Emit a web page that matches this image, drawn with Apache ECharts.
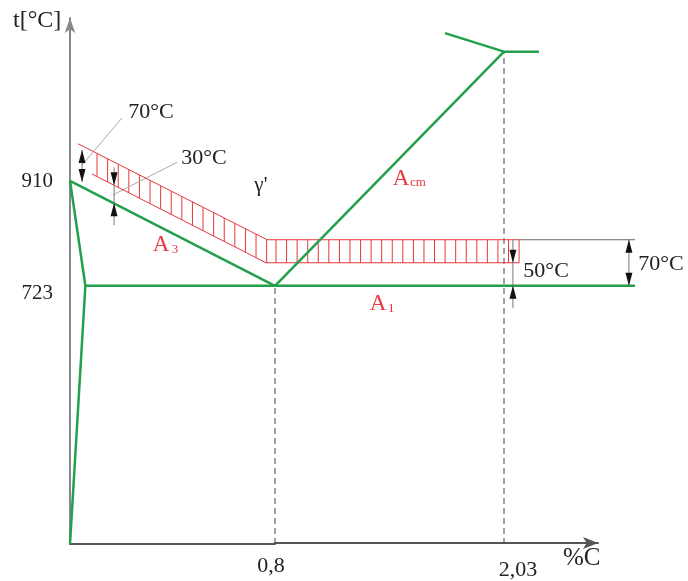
<!DOCTYPE html>
<html>
<head>
<meta charset="utf-8">
<script src="https://cdn.jsdelivr.net/npm/echarts@6/dist/echarts.min.js"></script>
<style>html,body{margin:0;padding:0;background:#fff;}#c{width:688px;height:581px;}</style>
</head>
<body>
<div id="c"></div>
<script>
// ---- data (x in %C, y in °C; schematic diagram with piecewise x scale: 0..0.8 and 0.8..) ----
const GREEN = '#22a04b', RED = '#e8363c', INK = '#222';
const FONT = '"Liberation Serif","DejaVu Serif",serif';

const yTicks = [723, 910];
const xTicks = [0.8, 2.03];

// left part (0 .. 0.8 %C)
const lineGPQ   = [[0, 910], [0.06, 723], [0, 263]];
const lineA3    = [[0, 910], [0.8, 723]];
const lineA1L   = [[0.06, 723], [0.8, 723]];
const bandUpL   = [[0.031, 976], [0.769, 805], [0.8, 805]];
const bandLoL   = [[0.086, 922], [0.765, 764], [0.8, 764]];
const leader70  = [[0.047, 938], [0.203, 1022]];
const leader30  = [[0.168, 885], [0.418, 943]];
// dimension marks: [x, tipTop, tipBottom, lineTop, lineBottom, mode(0 outward,1 inward)]
const dimsL     = [[0.047, 965, 908, 965, 908, 0], [0.172, 902, 870, 934, 831, 1]];

// right part (0.8 .. %C)
const lineAcm   = [[0.8, 723], [2.03, 1140]];
const lineE     = [[1.713, 1173], [2.03, 1140], [2.218, 1140]];
const lineA1R   = [[0.8, 723], [2.734, 723]];
const bandUpR   = [[0.8, 805], [2.111, 805]];
const bandLoR   = [[0.8, 764], [2.111, 764]];
const refLine   = [[2.111, 805], [2.734, 805]];
const dash08    = [[0.8, 263], [0.8, 723]];
const dash203   = [[2.03, 263], [2.03, 1140]];
const dimsR     = [[2.078, 764, 723, 805, 683, 1], [2.701, 805, 723, 805, 723, 0]];

// text labels: [text, x, y, style]
const labelsL = [['70°C', 0.316, 1033, 'note'], ['30°C', 0.523, 951, 'note'], ["γ'", 0.745, 901, 'gamma'],
                 ['A', 0.355, 796, 'A'], ['3', 0.41, 787, 'sub']];
const labelsR = [['A', 1.477, 914, 'A'], ['cm', 1.568, 906, 'sub'], ['A', 1.353, 690, 'A'], ['1', 1.424, 683, 'sub'],
                 ['50°C', 2.256, 749, 'note'], ['70°C', 2.873, 762, 'note']];

// ---- helpers ----
const labelStyles = {
  note:  {size: 22, fill: INK},
  gamma: {size: 21, fill: INK},
  A:     {size: 23, fill: RED},
  sub:   {size: 13, fill: RED}
};
function line(data, gi, color, width, type) {
  return {type: 'line', xAxisIndex: gi, yAxisIndex: gi, data: data, symbol: 'none', showSymbol: false,
    clip: false, silent: true, animation: false, z: 3,
    lineStyle: {color: color, width: width, type: type || 'solid'}};
}
function interpY(P, x) {
  for (let i = 0; i < P.length - 1; i++) {
    const a = P[i], b = P[i + 1];
    if (x >= a[0] && x <= b[0]) { const t = (x - a[0]) / ((b[0] - a[0]) || 1); return a[1] + t * (b[1] - a[1]); }
  }
  return x < P[0][0] ? P[0][1] : P[P.length - 1][1];
}
function hatch(upper, lower, gi, mode) {
  return {type: 'custom', xAxisIndex: gi, yAxisIndex: gi, silent: true, animation: false, z: 2, clip: false,
    data: [[upper[1][0], (upper[1][1] + lower[1][1]) / 2]],
    renderItem: function (params, api) {
      const U = upper.map(p => api.coord(p)), D = lower.map(p => api.coord(p));
      const start = Math.max(U[0][0], D[0][0]), end = Math.min(U[U.length - 1][0], D[D.length - 1][0]);
      const xs = [];
      if (mode === 'left') { for (let x = start + 5; x < end - 3; x += 10.6) xs.push(x); }
      else { const n = Math.round((end - start) / 10.5), s = (end - start - 1) / n; for (let k = 0; k <= n; k++) xs.push(start + 1 + k * s); }
      return {type: 'group', children: xs.map(x => ({type: 'line',
        shape: {x1: x, y1: interpY(U, x), x2: x, y2: interpY(D, x)}, style: {stroke: RED, lineWidth: 1}}))};
    }};
}
function dims(data, gi) {
  return {type: 'custom', xAxisIndex: gi, yAxisIndex: gi, silent: true, animation: false, z: 5, clip: false,
    data: data,
    renderItem: function (params, api) {
      const x = api.value(0);
      const p1 = api.coord([x, api.value(1)]), p2 = api.coord([x, api.value(2)]);
      const q1 = api.coord([x, api.value(3)]), q2 = api.coord([x, api.value(4)]);
      const mode = api.value(5), L = 13, W = 3.5, px = p1[0];
      const ch = [{type: 'line', shape: {x1: px, y1: q1[1], x2: px, y2: q2[1]}, style: {stroke: '#777', lineWidth: 1}}];
      let h1, h2;
      if (mode === 0) {
        h1 = [[px, p1[1]], [px - W, p1[1] + L], [px + W, p1[1] + L]];
        h2 = [[px, p2[1]], [px - W, p2[1] - L], [px + W, p2[1] - L]];
      } else {
        h1 = [[px, p1[1]], [px - W, p1[1] - L], [px + W, p1[1] - L]];
        h2 = [[px, p2[1]], [px - W, p2[1] + L], [px + W, p2[1] + L]];
      }
      ch.push({type: 'polygon', shape: {points: h1}, style: {fill: '#111'}});
      ch.push({type: 'polygon', shape: {points: h2}, style: {fill: '#111'}});
      return {type: 'group', children: ch};
    }};
}
function labels(arr, gi) {
  return {type: 'custom', xAxisIndex: gi, yAxisIndex: gi, silent: true, animation: false, clip: false, z: 6,
    data: arr.map(l => [l[1], l[2]]),
    renderItem: function (params, api) {
      const l = arr[params.dataIndex], st = labelStyles[l[3]];
      const p = api.coord([api.value(0), api.value(1)]);
      return {type: 'text', x: p[0], y: p[1],
        style: {text: l[0], font: st.size + 'px ' + FONT, fill: st.fill, align: 'center', verticalAlign: 'middle'}};
    }};
}

const chart = echarts.init(document.getElementById('c'), null, {renderer: 'canvas'});
const Y_MIN = 263, Y_MAX = 1200;
const PX_PER_PCT = 229 / 1.23;           // right part horizontal scale
const hidden = {show: false};
chart.setOption({
  animation: false,
  backgroundColor: '#fff',
  grid: [
    {left: 70, width: 205, top: 18, bottom: 37},             // left part
    {left: 275, width: 413, top: 18, bottom: 37},            // right part (drawing area)
    {left: 275, width: 323, top: 18, bottom: 37}             // right part axis (arrow, tick labels)
  ],
  xAxis: [
    {gridIndex: 0, type: 'value', min: 0, max: 0.8, axisTick: hidden, axisLabel: hidden,
     splitLine: hidden, axisLine: {show: true, lineStyle: {color: '#555', width: 2}}},
    {gridIndex: 1, type: 'value', min: 0.8, max: 0.8 + 413 / PX_PER_PCT, show: false},
    {gridIndex: 2, type: 'value', min: 0.8, max: 0.8 + 323 / PX_PER_PCT, axisTick: hidden, splitLine: hidden,
     axisLine: {show: true, symbol: ['none', 'arrow'], symbolSize: [9, 15], lineStyle: {color: '#555', width: 2}},
     axisLabel: {customValues: xTicks, margin: 12, fontFamily: FONT, fontSize: 22, color: INK,
       formatter: function (v) { return v === 0.8 ? '{a|0,8}' : '{b|2,03}'; },
       rich: {a: {fontFamily: FONT, fontSize: 22, color: INK, padding: [0, 8, 0, 0]},
              b: {fontFamily: FONT, fontSize: 22, color: INK, padding: [4, 0, 0, 28]}}}}
  ],
  yAxis: [
    {gridIndex: 0, type: 'value', min: Y_MIN, max: Y_MAX, axisTick: hidden, splitLine: hidden,
     axisLine: {show: true, symbol: ['none', 'arrow'], symbolSize: [8, 15], lineStyle: {color: '#888', width: 2}},
     axisLabel: {customValues: yTicks, margin: 17, fontFamily: FONT, fontSize: 21, color: INK,
       formatter: function (v) { return v === 723 ? '{lo|723}' : '{hi|910}'; },
       rich: {lo: {fontFamily: FONT, fontSize: 21, color: INK, padding: [16, 0, 0, 0]},
              hi: {fontFamily: FONT, fontSize: 21, color: INK, padding: [2, 0, 0, 0]}}}},
    {gridIndex: 1, type: 'value', min: Y_MIN, max: Y_MAX, show: false},
    {gridIndex: 2, type: 'value', min: Y_MIN, max: Y_MAX, show: false}
  ],
  graphic: [
    {type: 'text', left: 13, top: 9, style: {text: 't[°C]', font: '24px ' + FONT, fill: INK}},
    {type: 'text', left: 563, top: 546, style: {text: '%C', font: '25px ' + FONT, fill: INK}}
  ],
  series: [
    line(dash08, 1, '#444', 1, [6, 4]),
    line(dash203, 1, '#444', 1, [6, 4]),
    line(leader70, 0, '#aaa', 1),
    line(leader30, 0, '#aaa', 1),
    line(refLine, 1, '#666', 1),
    hatch(bandUpL, bandLoL, 0, 'left'),
    hatch(bandUpR, bandLoR, 1, 'right'),
    line(bandUpL, 0, RED, 1), line(bandLoL, 0, RED, 1),
    line(bandUpR, 1, RED, 1), line(bandLoR, 1, RED, 1),
    line(lineGPQ, 0, GREEN, 2.5),
    line(lineA3, 0, GREEN, 2.5),
    line(lineA1L, 0, GREEN, 2.5),
    line(lineAcm, 1, GREEN, 2.5),
    line(lineE, 1, GREEN, 2.5),
    line(lineA1R, 1, GREEN, 2.5),
    dims(dimsL, 0),
    dims(dimsR, 1),
    labels(labelsL, 0),
    labels(labelsR, 1)
  ]
});
</script>
</body>
</html>
